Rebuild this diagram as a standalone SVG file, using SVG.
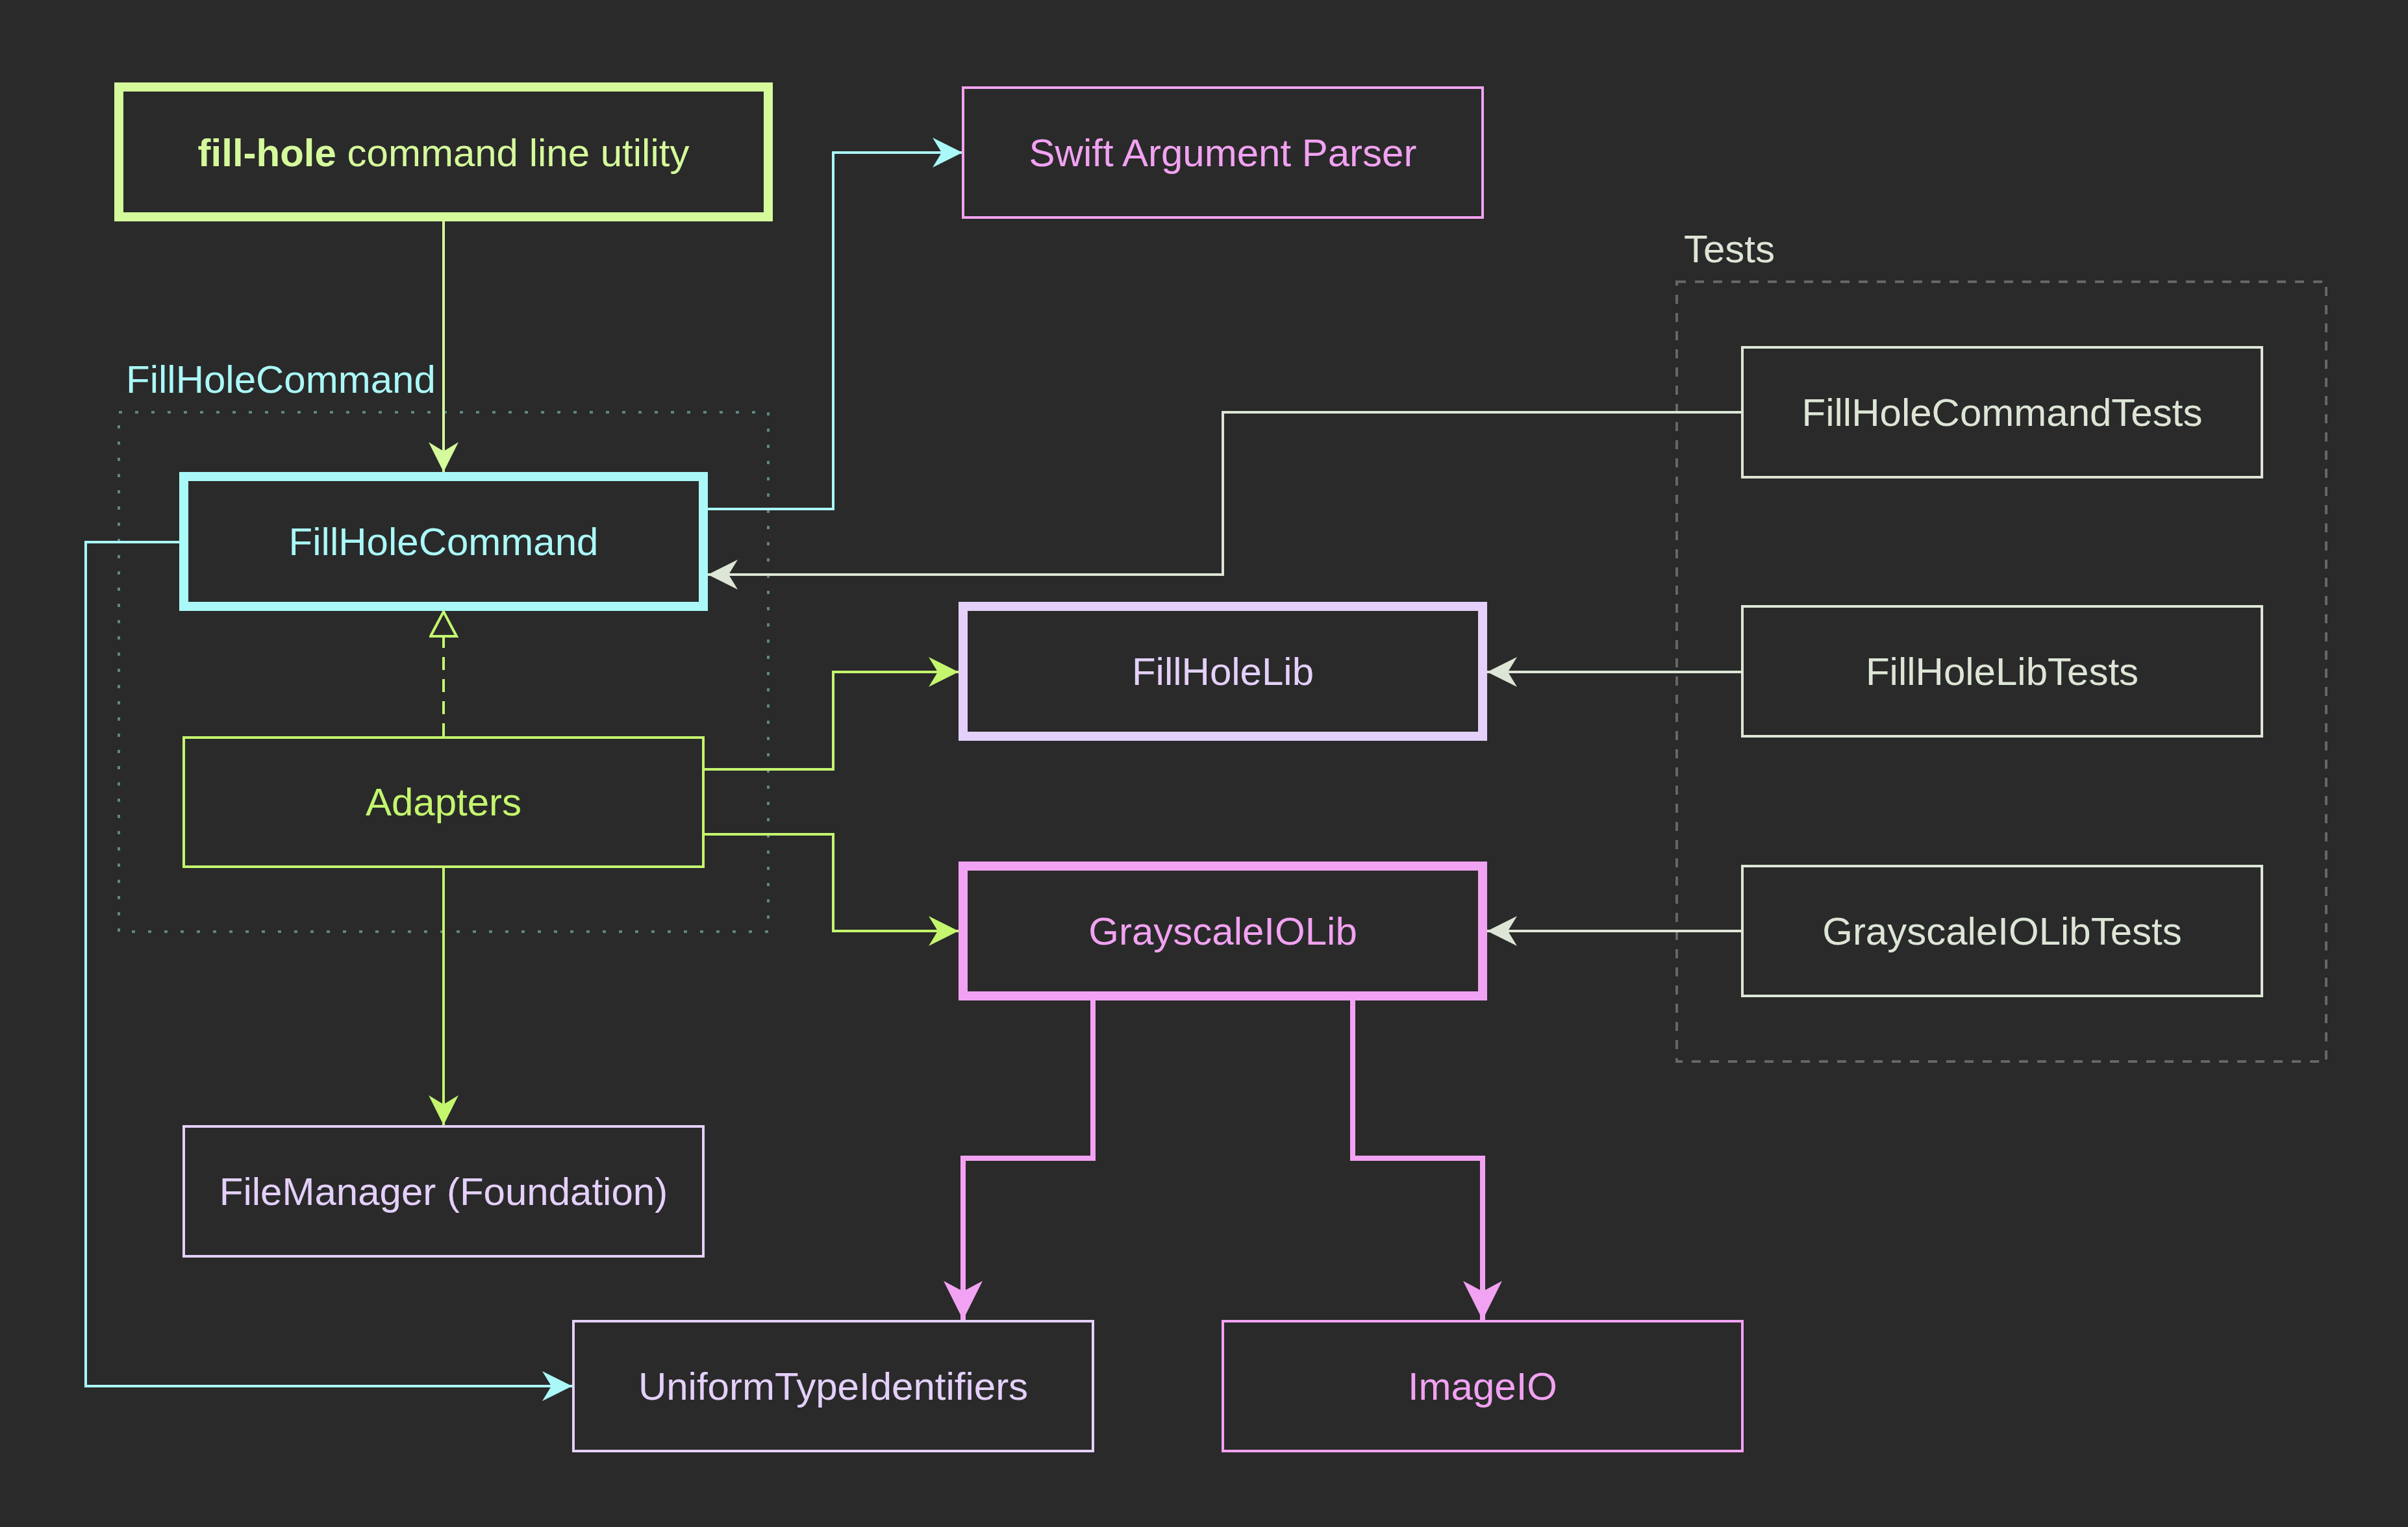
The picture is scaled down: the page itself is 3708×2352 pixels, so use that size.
<svg xmlns="http://www.w3.org/2000/svg" width="3708" height="2352" viewBox="0 0 3708 2352">
<style>
text{font-family:"Liberation Sans",Arial,Helvetica,sans-serif;font-size:60px;text-anchor:middle}
.lbl{text-anchor:start}
.box{fill:#2a2a2a}
.thick{stroke-width:14}
.thin{stroke-width:4}
.ln{fill:none;stroke-width:4}
.ln.heavy{stroke-width:8}
</style>
<defs>
<marker id="aLime" markerUnits="userSpaceOnUse" markerWidth="46" markerHeight="46" refX="46" refY="23" orient="auto" viewBox="0 0 46 46"><path d="M0,0 L46,23 L0,46 L14,23 z" fill="#d5fa9b"/></marker>
<marker id="aGreen" markerUnits="userSpaceOnUse" markerWidth="46" markerHeight="46" refX="46" refY="23" orient="auto" viewBox="0 0 46 46"><path d="M0,0 L46,23 L0,46 L14,23 z" fill="#c4f66e"/></marker>
<marker id="aCyan" markerUnits="userSpaceOnUse" markerWidth="46" markerHeight="46" refX="46" refY="23" orient="auto" viewBox="0 0 46 46"><path d="M0,0 L46,23 L0,46 L14,23 z" fill="#aaf8f8"/></marker>
<marker id="aGrey" markerUnits="userSpaceOnUse" markerWidth="46" markerHeight="46" refX="46" refY="23" orient="auto" viewBox="0 0 46 46"><path d="M0,0 L46,23 L0,46 L14,23 z" fill="#dde6d6"/></marker>
<marker id="aPink" markerUnits="userSpaceOnUse" markerWidth="60" markerHeight="60" refX="60" refY="30" orient="auto" viewBox="0 0 60 60"><path d="M0,0 L60,30 L0,60 L16,30 z" fill="#f2a2f2"/></marker>
<marker id="tri" markerUnits="userSpaceOnUse" markerWidth="46" markerHeight="46" refX="41" refY="22" orient="auto" viewBox="0 0 46 46"><path d="M3,2 L41,22 L3,42 z" fill="#2a2a2a" stroke="#c4f66e" stroke-width="4"/></marker>
</defs>
<rect width="3708" height="2352" fill="#2a2a2a"/>

<g id="cluster-fillholecommand">
<rect x="183" y="635" width="1000" height="800" fill="none" stroke="#5f8686" stroke-width="4" stroke-dasharray="5 20"/>
<text class="lbl" x="194" y="605" fill="#aaf8f8">FillHoleCommand</text>
</g>
<g id="cluster-tests">
<rect x="2582" y="434" width="1000" height="1201" fill="none" stroke="#666666" stroke-width="4" stroke-dasharray="14 14"/>
<text class="lbl" x="2593" y="404" fill="#dde6d6">Tests</text>
</g>

<g id="connectors">
<path class="ln" d="M683,341 L683,727" stroke="#d5fa9b" marker-end="url(#aLime)"/>
<path class="ln" d="M1090,784 L1283,784 L1283,235 L1482,235" stroke="#aaf8f8" marker-end="url(#aCyan)"/>
<path class="ln" d="M276,835 L132,835 L132,2135 L881,2135" stroke="#aaf8f8" marker-end="url(#aCyan)"/>
<path class="ln" d="M2683,635 L1883,635 L1883,885 L1090,885" stroke="#dde6d6" marker-end="url(#aGrey)"/>
<path class="ln" d="M683,1134 L683,942" stroke="#c4f66e" stroke-dasharray="20 14" marker-end="url(#tri)"/>
<path class="ln" d="M1085,1185 L1283,1185 L1283,1035 L1476,1035" stroke="#c4f66e" marker-end="url(#aGreen)"/>
<path class="ln" d="M1085,1285 L1283,1285 L1283,1434 L1476,1434" stroke="#c4f66e" marker-end="url(#aGreen)"/>
<path class="ln" d="M683,1337 L683,1733" stroke="#c4f66e" marker-end="url(#aGreen)"/>
<path class="ln" d="M2681,1035 L2290,1035" stroke="#dde6d6" marker-end="url(#aGrey)"/>
<path class="ln" d="M2681,1434 L2290,1434" stroke="#dde6d6" marker-end="url(#aGrey)"/>
<path class="ln heavy" d="M1683,1541 L1683,1784 L1483,1784 L1483,2033" stroke="#f2a2f2" marker-end="url(#aPink)"/>
<path class="ln heavy" d="M2083,1541 L2083,1784 L2283,1784 L2283,2033" stroke="#f2a2f2" marker-end="url(#aPink)"/>
</g>

<g id="node-fillhole">
<rect class="box thick" x="183" y="134" width="1000" height="200" stroke="#d5fa9b"/>
<text x="683" y="256" fill="#d5fa9b"><tspan font-weight="bold">fill-hole</tspan> command line utility</text>
</g>
<g id="node-swiftargumentparser">
<rect class="box thin" x="1483" y="135" width="800" height="200" stroke="#f2a2f2"/>
<text x="1883" y="256" fill="#f2a2f2">Swift Argument Parser</text>
</g>
<g id="node-fillholecommand">
<rect class="box thick" x="283" y="734" width="800" height="200" stroke="#aaf8f8"/>
<text x="683" y="855" fill="#aaf8f8">FillHoleCommand</text>
</g>
<g id="node-adapters">
<rect class="box thin" x="283" y="1136" width="800" height="199" stroke="#c4f66e"/>
<text x="683" y="1256" fill="#c4f66e">Adapters</text>
</g>
<g id="node-filemanager">
<rect class="box thin" x="283" y="1735" width="800" height="200" stroke="#e4d0fa"/>
<text x="683" y="1856" fill="#e4d0fa">FileManager (Foundation)</text>
</g>
<g id="node-uniformtypeidentifiers">
<rect class="box thin" x="883" y="2035" width="800" height="200" stroke="#e4d0fa"/>
<text x="1283" y="2156" fill="#e4d0fa">UniformTypeIdentifiers</text>
</g>
<g id="node-imageio">
<rect class="box thin" x="1883" y="2035" width="800" height="200" stroke="#f2a2f2"/>
<text x="2283" y="2156" fill="#f2a2f2">ImageIO</text>
</g>
<g id="node-fillholelib">
<rect class="box thick" x="1483" y="934" width="800" height="200" stroke="#e4d0fa"/>
<text x="1883" y="1055" fill="#e4d0fa">FillHoleLib</text>
</g>
<g id="node-grayscaleiolib">
<rect class="box thick" x="1483" y="1334" width="800" height="200" stroke="#f2a2f2"/>
<text x="1883" y="1455" fill="#f2a2f2">GrayscaleIOLib</text>
</g>
<g id="node-fillholecommandtests">
<rect class="box thin" x="2683" y="535" width="800" height="200" stroke="#dde6d6"/>
<text x="3083" y="656" fill="#dde6d6">FillHoleCommandTests</text>
</g>
<g id="node-fillholelibtests">
<rect class="box thin" x="2683" y="934" width="800" height="200" stroke="#dde6d6"/>
<text x="3083" y="1055" fill="#dde6d6">FillHoleLibTests</text>
</g>
<g id="node-grayscaleiolibtests">
<rect class="box thin" x="2683" y="1334" width="800" height="200" stroke="#dde6d6"/>
<text x="3083" y="1455" fill="#dde6d6">GrayscaleIOLibTests</text>
</g>
</svg>
